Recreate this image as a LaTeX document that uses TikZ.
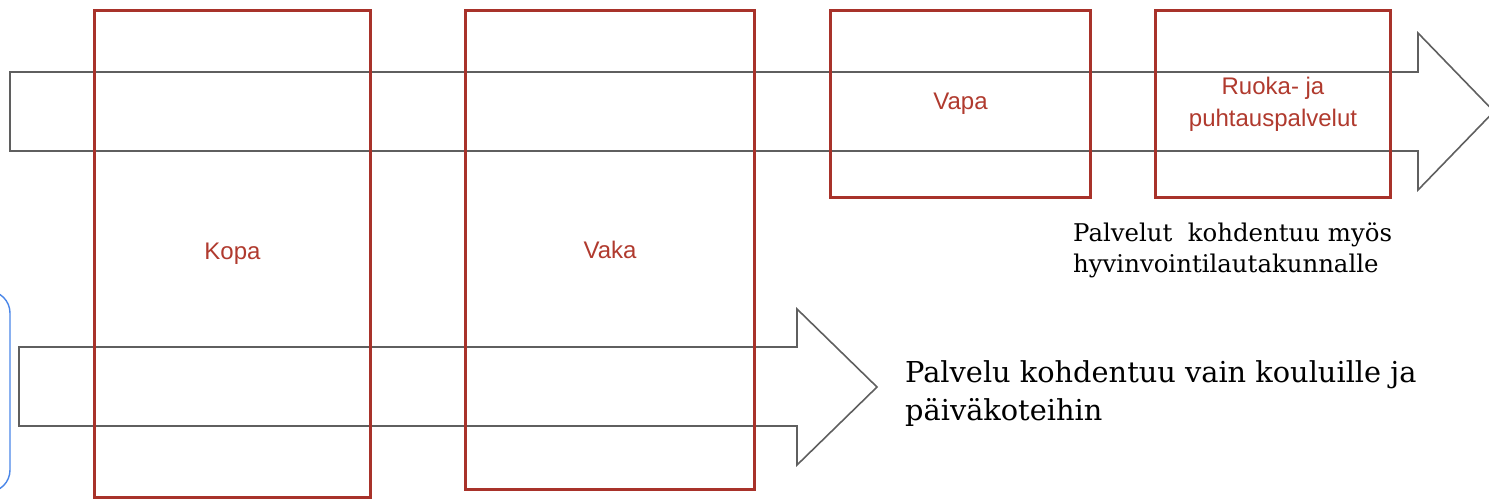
\documentclass[tikz,border=0pt]{standalone}
\usepackage{fontspec}
\setmainfont{Liberation Sans}
\newfontfamily\serifA{DejaVu Serif}
\definecolor{boxred}{HTML}{A8322A}
\definecolor{txtred}{HTML}{B03A2E}
\definecolor{arrgray}{HTML}{5F5F5F}
\definecolor{blueline}{HTML}{4A86E8}
\tikzset{
  redbox/.style={draw=boxred, line width=3pt, text=txtred, anchor=north west,
    inner sep=0pt, align=center, font=\fontsize{24}{32}\selectfont},
  bigarrow/.style={draw=arrgray, line width=1.6pt, line join=miter},
  serifnote/.style={anchor=base west, inner sep=0pt, align=left, text=black},
}
\begin{document}
\begin{tikzpicture}[x=1pt,y=-1pt]
\useasboundingbox (0,0) rectangle (1489,499);
\clip (0,0) rectangle (1489,499);
% blue rounded box (mostly off-canvas)
\draw[blueline, line width=1.4pt, rounded corners=22pt] (-120,291) rectangle (10,492);
% arrows
\draw[bigarrow] (10,72) -- (1418,72) -- (1418,33) -- (1494,111.5) -- (1418,190) -- (1418,151) -- (10,151) -- cycle;
\draw[bigarrow] (19,347) -- (797,347) -- (797,309) -- (877,387) -- (797,465) -- (797,426) -- (19,426) -- cycle;
% red boxes
\node[redbox, minimum width=276pt, minimum height=487pt] (kopa) at (93,9) {Kopa};
\node[redbox, minimum width=289pt, minimum height=479pt] (vaka) at (464,9) {Vaka};
\node[redbox, minimum width=260pt, minimum height=187pt] (vapa) at (829,9) {Vapa};
\node[redbox, minimum width=235pt, minimum height=187pt] (ruoka) at (1154,9) {Ruoka- ja\\puhtauspalvelut};
% notes (base anchor = baseline of last line)
\node[serifnote, font=\serifA\fontsize{24.4}{31.5}\selectfont] (note1) at (1073,272.5)
  {Palvelut\ \ kohdentuu myös\\hyvinvointilautakunnalle};
\node[serifnote, font=\serifA\fontsize{28.8}{38}\selectfont] (note2) at (905,420)
  {Palvelu kohdentuu vain kouluille ja\\päiväkoteihin};
\end{tikzpicture}
\end{document}
